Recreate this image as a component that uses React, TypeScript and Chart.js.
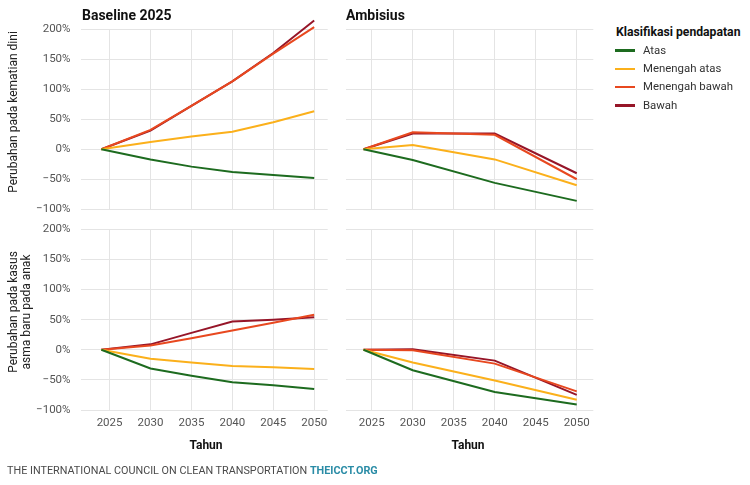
import React, { useEffect, useRef } from "react";
import { Chart, registerables } from "chart.js";

Chart.register(...registerables);

// ---------- data ----------
const incomeGroups = ["Atas", "Menengah atas", "Menengah bawah", "Bawah"];

const baselineYears = [2024, 2030, 2035, 2040, 2045, 2050];
const ambisiusYears = [2024, 2030, 2040, 2050];

const xTickValues = [2025, 2030, 2035, 2040, 2045, 2050];
const yTickValues = [-100, -50, 0, 50, 100, 150, 200];
const yTickLabels = ["\u2212100%", "\u221250%", "0%", "50%", "100%", "150%", "200%"];

// Perubahan pada kematian dini — Baseline 2025
const mortBaseAtas = [0, -17, -29, -38, -43, -48];
const mortBaseMenengahAtas = [0, 12, 21, 29, 45, 63];
const mortBaseMenengahBawah = [0, 32, 72, 113, 159, 203];
const mortBaseBawah = [0, 31, 72, 113, 160, 214];

// Perubahan pada kematian dini — Ambisius
const mortAmbAtas = [0, -18, -56, -86];
const mortAmbMenengahAtas = [0, 7, -17, -60];
const mortAmbMenengahBawah = [0, 28, 24, -50];
const mortAmbBawah = [0, 26, 26, -40];

// Perubahan pada kasus asma baru pada anak — Baseline 2025
const asthBaseAtas = [0, -31, -43, -54, -59, -65];
const asthBaseMenengahAtas = [0, -15, -21, -27, -29, -32];
const asthBaseMenengahBawah = [0, 7, 19, 32, 45, 58];
const asthBaseBawah = [0, 9, 28, 47, 50, 54];

// Perubahan pada kasus asma baru pada anak — Ambisius
const asthAmbAtas = [0, -34, -70, -91];
const asthAmbMenengahAtas = [0, -21, -51, -83];
const asthAmbMenengahBawah = [0, -1, -23, -69];
const asthAmbBawah = [0, 1, -18, -75];

// ---------- style ----------
const COLORS = ["#1d6b1f", "#fbb01b", "#e8481f", "#961528"];
const FONT = "Roboto, 'DejaVu Sans', sans-serif";
const GRID = "#e4e4e4";
const TICK_COLOR = "#555555";

type Rect = { l: number; t: number; r: number; b: number };

function Panel(props: {
  plot: Rect;
  years: number[];
  series: number[][];
  showYTicks: boolean;
  showXTicks: boolean;
  xMin: number;
  xMax: number;
}) {
  const { plot, years, series, showYTicks, showXTicks, xMin, xMax } = props;
  const ref = useRef<HTMLCanvasElement>(null);

  const cLeft = showYTicks ? 0 : Math.floor(plot.l) - 10;
  const cTop = Math.floor(plot.t) - 20;
  const cRight = Math.ceil(plot.r) + 12;
  const cBottom = Math.ceil(plot.b) + (showXTicks ? 30 : 20);
  const w = cRight - cLeft;
  const h = cBottom - cTop;
  const padTop = plot.t - cTop;
  const padRight = cRight - plot.r;
  const yW = plot.l - cLeft;
  const xH = showXTicks ? 22 : 0;
  const padBottom = cBottom - plot.b - xH;

  useEffect(() => {
    if (!ref.current) return;
    const chart = new Chart(ref.current, {
      type: "line",
      data: {
        datasets: series.map((s, i) => ({
          label: incomeGroups[i],
          data: years.map((x, j) => ({ x, y: s[j] })),
          borderColor: COLORS[i],
          backgroundColor: COLORS[i],
          borderWidth: 2,
          pointRadius: 0,
          tension: 0,
          fill: false,
          clip: false as any,
        })),
      },
      options: {
        animation: false,
        responsive: false,
        maintainAspectRatio: false,
        layout: { padding: { left: 0, top: padTop, right: padRight, bottom: padBottom } },
        plugins: { legend: { display: false }, tooltip: { enabled: false } },
        events: [],
        scales: {
          x: {
            type: "linear",
            min: xMin,
            max: xMax,
            afterBuildTicks: (s: any) => {
              s.ticks = xTickValues.map((v) => ({ value: v }));
            },
            afterFit: (s: any) => {
              s.height = xH;
            },
            grid: { color: GRID, lineWidth: 1, drawTicks: false },
            border: { display: false },
            ticks: {
              display: showXTicks,
              padding: 6,
              color: TICK_COLOR,
              font: { family: FONT, size: 11.5 },
              callback: (v: any) => String(v),
              maxRotation: 0,
            },
          },
          y: {
            type: "linear",
            min: -100,
            max: 200,
            afterBuildTicks: (s: any) => {
              s.ticks = yTickValues.map((v) => ({ value: v }));
            },
            afterFit: (s: any) => {
              s.width = yW;
            },
            grid: { color: GRID, lineWidth: 1, drawTicks: false },
            border: { display: false },
            ticks: {
              display: showYTicks,
              padding: 10,
              color: TICK_COLOR,
              font: { family: FONT, size: 11.5 },
              callback: (_v: any, i: number) => yTickLabels[i],
            },
          },
        },
      },
    });
    return () => chart.destroy();
  }, []);

  return (
    <canvas
      ref={ref}
      width={w}
      height={h}
      style={{ position: "absolute", left: cLeft, top: cTop, width: w, height: h }}
    />
  );
}

function T(props: {
  x: number;
  y: number;
  size: number;
  bold?: boolean;
  color?: string;
  align?: "left" | "center";
  rotate?: boolean;
  children: React.ReactNode;
  spacing?: number;
}) {
  const { x, y, size, bold, color, align = "left", rotate, children, spacing } = props;
  const tx = align === "center" || rotate ? "-50%" : "0";
  return (
    <div
      style={{
        position: "absolute",
        left: x,
        top: y,
        transform: `translate(${tx}, -50%)${rotate ? " rotate(-90deg)" : ""}`,
        fontFamily: FONT,
        fontSize: size,
        fontWeight: bold ? 700 : 400,
        color: color || "#222",
        lineHeight: 1,
        whiteSpace: "nowrap",
        textAlign: "center",
        letterSpacing: spacing || 0,
      }}
    >
      {children}
    </div>
  );
}

export default function App() {
  const leftX = { l: 80.5, r: 327.7, xMin: 2021.45, xMax: 2051.65 };
  const rightX = { l: 345.5, r: 593.3, xMin: 2021.8, xMax: 2052.02 };
  const topY = { t: 29, b: 209.3 };
  const botY = { t: 229.3, b: 410 };

  const legendY = [50.6, 68.9, 87.2, 105.5];

  return (
    <div
      style={{
        position: "absolute",
        left: 0,
        top: 0,
        width: 750,
        height: 485,
        background: "#ffffff",
        overflow: "hidden",
      }}
    >
      <Panel
        plot={{ l: leftX.l, r: leftX.r, t: topY.t, b: topY.b }}
        years={baselineYears}
        series={[mortBaseAtas, mortBaseMenengahAtas, mortBaseMenengahBawah, mortBaseBawah]}
        showYTicks
        showXTicks={false}
        xMin={leftX.xMin}
        xMax={leftX.xMax}
      />
      <Panel
        plot={{ l: rightX.l, r: rightX.r, t: topY.t, b: topY.b }}
        years={ambisiusYears}
        series={[mortAmbAtas, mortAmbMenengahAtas, mortAmbMenengahBawah, mortAmbBawah]}
        showYTicks={false}
        showXTicks={false}
        xMin={rightX.xMin}
        xMax={rightX.xMax}
      />
      <Panel
        plot={{ l: leftX.l, r: leftX.r, t: botY.t, b: botY.b }}
        years={baselineYears}
        series={[asthBaseAtas, asthBaseMenengahAtas, asthBaseMenengahBawah, asthBaseBawah]}
        showYTicks
        showXTicks
        xMin={leftX.xMin}
        xMax={leftX.xMax}
      />
      <Panel
        plot={{ l: rightX.l, r: rightX.r, t: botY.t, b: botY.b }}
        years={ambisiusYears}
        series={[asthAmbAtas, asthAmbMenengahAtas, asthAmbMenengahBawah, asthAmbBawah]}
        showYTicks={false}
        showXTicks
        xMin={rightX.xMin}
        xMax={rightX.xMax}
      />

      <T x={82} y={15} size={14} bold color="#111">Baseline 2025</T>
      <T x={346} y={15} size={14} bold color="#111">Ambisius</T>

      <T x={13} y={112} size={12} rotate color="#222">Perubahan pada kematian dini</T>
      <div
        style={{
          position: "absolute",
          left: 18.5,
          top: 312,
          transform: "translate(-50%, -50%) rotate(-90deg)",
          fontFamily: FONT,
          fontSize: 12,
          color: "#222",
          lineHeight: "12.5px",
          whiteSpace: "nowrap",
          textAlign: "center",
        }}
      >
        Perubahan pada kasus
        <br />
        asma baru pada anak
      </div>

      <T x={206} y={445} size={12} bold align="center" color="#111">Tahun</T>
      <T x={468} y={445} size={12} bold align="center" color="#111">Tahun</T>

      <T x={616} y={32} size={12.2} bold color="#111">Klasifikasi pendapatan</T>
      {incomeGroups.map((g, i) => (
        <React.Fragment key={g}>
          <div
            style={{
              position: "absolute",
              left: 615,
              top: legendY[i] - 1.25,
              width: 20,
              height: 2.5,
              background: COLORS[i],
            }}
          />
          <T x={643} y={legendY[i]} size={11.4} color="#333">{g}</T>
        </React.Fragment>
      ))}

      <T x={7} y={470.5} size={10.8} color="#4a4a4a">
        THE INTERNATIONAL COUNCIL ON CLEAN TRANSPORTATION{" "}
        <span style={{ color: "#2a8ca6", fontWeight: 700 }}>THEICCT.ORG</span>
      </T>
    </div>
  );
}
